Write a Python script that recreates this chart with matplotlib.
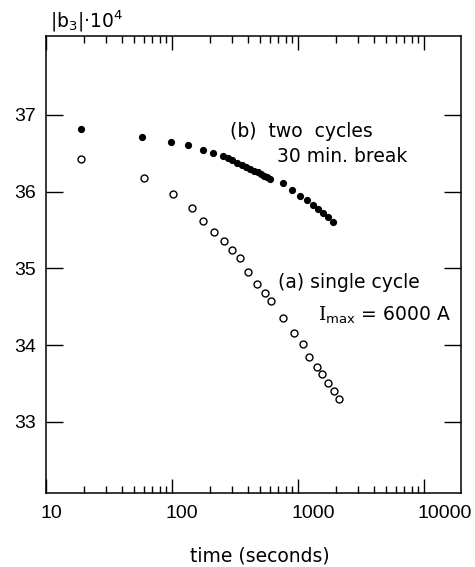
import numpy as np
import matplotlib
matplotlib.use("Agg")
import matplotlib.pyplot as plt
from matplotlib.ticker import LogLocator, FixedLocator, NullFormatter, NullLocator
from matplotlib.transforms import ScaledTranslation

plt.rcParams['font.family'] = ['Liberation Sans', 'DejaVu Sans']
plt.rcParams['mathtext.fontset'] = 'dejavuserif'
plt.rcParams['mathtext.default'] = 'regular'

# (a) single cycle, open circles
t_a = [19, 60, 102, 144, 176, 215, 258, 298, 346, 401, 472, 548, 611,
       758, 930, 1095, 1223, 1411, 1545, 1734, 1937, 2111]
b3_a = [36.43, 36.18, 35.97, 35.79, 35.62, 35.48, 35.36, 35.24, 35.14, 34.95,
        34.80, 34.68, 34.57, 34.35, 34.16, 34.01, 33.84, 33.71, 33.62, 33.51,
        33.40, 33.30]

# (b) two cycles, 30 min break, filled circles
t_b = [19, 58, 98, 134, 176, 211, 254, 280, 300, 330, 360, 390, 420, 450,
       480, 510, 540, 570, 600, 760, 900, 1040, 1180, 1320, 1440, 1580,
       1730, 1900]
b3_b = [36.82, 36.71, 36.65, 36.61, 36.54, 36.50, 36.46, 36.44, 36.41, 36.38,
        36.35, 36.32, 36.29, 36.27, 36.25, 36.23, 36.21, 36.19, 36.17, 36.11,
        36.02, 35.94, 35.89, 35.83, 35.77, 35.72, 35.67, 35.61]

x_major = [10, 100, 1000, 10000]
x_labels = ["10", "100", "1000", "10000"]
y_major = [33, 34, 35, 36, 37]

wide = ['DejaVu Sans']

fig = plt.figure(figsize=(4.75, 5.67), dpi=100)
ax = fig.add_axes([46/475, 1 - 493/567, 415/475, 457/567])

ax.plot(t_b, b3_b, 'o', color='black', markersize=5.2, markeredgewidth=0)
ax.plot(t_a, b3_a, 'o', markerfacecolor='white', markeredgecolor='black',
        markersize=5.0, markeredgewidth=1.0)

ax.set_xscale('log')
ax.set_xlim(10, 19700)
ax.set_ylim(32.07, 38.03)

ax.xaxis.set_major_locator(FixedLocator(x_major))
ax.set_xticklabels(x_labels)
ax.xaxis.set_minor_locator(LogLocator(base=10, subs=np.arange(2, 10)))
ax.xaxis.set_minor_formatter(NullFormatter())
ax.yaxis.set_major_locator(FixedLocator(y_major))
ax.yaxis.set_minor_locator(NullLocator())

ax.tick_params(axis='x', which='major', direction='in', top=True, bottom=True,
               length=10, width=1.0, labelsize=14, pad=9)
ax.tick_params(axis='x', which='minor', direction='in', top=True, bottom=True,
               length=5, width=1.0)
ax.tick_params(axis='y', which='major', direction='in', left=True, right=True,
               length=12, width=1.0, labelsize=14, pad=7)

for lab in ax.get_xticklabels():
    lab.set_horizontalalignment('left')
    lab.set_transform(lab.get_transform() +
                      ScaledTranslation(-6/100, 0, fig.dpi_scale_trans))

for sp in ax.spines.values():
    sp.set_linewidth(1.1)

ax.set_xlabel("time (seconds)", fontsize=13.5, family=wide)
ax.xaxis.set_label_coords((260 - 46)/415, -0.116)
ax.xaxis.label.set_verticalalignment('top')

fig.text(50/475, 1 - 27/567, "|b$_3$|·10$^4$", fontsize=13.5, va='baseline',
         family=wide)

ax.text(0.443, 0.812, "(b)  two  cycles", transform=ax.transAxes,
        fontsize=13.5, va='top', ha='left', family=wide)
ax.text(0.557, 0.757, "30 min. break", transform=ax.transAxes,
        fontsize=13.5, va='top', ha='left', family=wide)
ax.text(0.559, 0.481, "(a) single cycle", transform=ax.transAxes,
        fontsize=13.5, va='top', ha='left', family=wide)
ax.text(0.655, 0.411, r"$\mathrm{I}_{\mathsf{max}}$ = 6000 A",
        transform=ax.transAxes, fontsize=13.5, va='top', ha='left',
        family=wide)

fig.savefig("out.png", dpi=100)
